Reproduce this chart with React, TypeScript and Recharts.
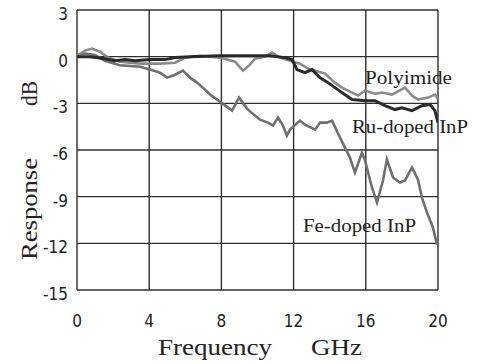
import { LineChart, Line, XAxis, YAxis, CartesianGrid } from 'recharts'

// frequency (GHz) / response (dB)
const polyimideFreq = [0, 0.44, 0.83, 1.27, 1.72, 2.38, 3.49, 4.6, 5.43, 6.0, 6.81, 7.92, 8.75, 9.2, 9.58, 9.86, 10.4, 10.8, 11.25, 11.8, 12.35, 12.9, 13.19, 13.74, 14.29, 14.68, 15.01, 15.57, 15.96, 16.51, 16.9, 17.45, 18.17, 18.56, 18.89, 19.45, 19.83, 20]
const polyimideDb = [0.06, 0.39, 0.51, 0.32, -0.06, -0.32, -0.45, -0.45, -0.39, -0.06, 0.06, -0.06, -0.32, -0.9, -0.51, -0.13, 0, 0.26, -0.06, -0.26, -0.45, -0.83, -0.9, -1.09, -1.67, -1.99, -2.18, -2.5, -2.18, -2.38, -2.31, -2.44, -1.99, -2.5, -2.76, -2.63, -2.44, -2.7]

const ruFreq = [0, 0.72, 1.55, 2.1, 2.66, 3.21, 4.04, 4.88, 5.43, 6.26, 7.92, 9.58, 10.69, 11.52, 11.91, 12.19, 12.63, 13.02, 13.46, 13.91, 14.68, 15.24, 15.96, 16.51, 17.06, 17.62, 18.0, 18.56, 19.11, 19.56, 19.83, 20]
const ruDb = [0, 0, -0.13, -0.26, -0.19, -0.26, -0.19, -0.19, -0.06, 0, 0.06, 0.06, 0.06, -0.06, -0.19, -0.83, -1.03, -0.83, -1.35, -1.67, -2.31, -2.76, -2.83, -2.83, -3.15, -3.4, -3.28, -3.47, -3.15, -3.08, -3.47, -4.24]

const feFreq = [0, 0.44, 1.0, 1.55, 2.38, 3.49, 4.04, 4.6, 4.99, 5.43, 5.87, 6.26, 6.65, 7.09, 7.37, 7.92, 8.59, 8.98, 9.42, 9.86, 10.14, 10.58, 10.86, 11.14, 11.41, 11.63, 11.8, 12.35, 12.63, 13.19, 13.46, 13.85, 14.13, 14.57, 15.12, 15.4, 15.79, 15.96, 16.34, 16.62, 16.95, 17.17, 17.51, 17.89, 18.17, 18.56, 18.89, 19.11, 19.39, 19.72, 19.94, 20]
const feDb = [0.1, 0.2, 0.1, -0.26, -0.55, -0.65, -0.83, -1.03, -1.35, -1.16, -0.9, -1.35, -1.67, -2.12, -2.44, -2.89, -3.47, -2.63, -3.34, -3.79, -4.05, -4.24, -4.43, -3.92, -4.43, -5.07, -4.69, -4.11, -4.37, -4.69, -4.24, -4.24, -4.11, -5.2, -6.49, -7.45, -6.17, -6.68, -8.41, -9.38, -7.96, -6.62, -7.77, -8.09, -7.96, -7.13, -7.9, -9.06, -10.02, -10.98, -12.07, -11.75]

const xTicks = [0, 4, 8, 12, 16, 20]
const yTicks = [3, 0, -3, -6, -9, -12, -15]

const toRows = (freq: number[], db: number[]) => freq.map((f, i) => ({ f, db: db[i] }))

const tickFont = "'Liberation Sans Narrow', 'DejaVu Sans Condensed', 'Liberation Sans', sans-serif"
const serif = "'Liberation Serif', 'Times New Roman', serif"

const XTick = ({ x, y, payload }: any) => (
  <text x={x} y={y + 37} textAnchor="middle" fontFamily={tickFont} fontSize={17} fill="#222">
    {payload.value}
  </text>
)

const YTick = ({ x, y, payload }: any) => (
  <text x={x - 9} y={y + 10} textAnchor="end" fontFamily={tickFont} fontSize={17} fill="#222">
    {payload.value}
  </text>
)

export default function App() {
  const polyimide = toRows(polyimideFreq, polyimideDb)
  const ru = toRows(ruFreq, ruDb)
  const fe = toRows(feFreq, feDb)

  return (
    <div style={{ position: 'absolute', left: 0, top: 0, width: 480, height: 364, background: '#fff' }}>
      <LineChart width={480} height={364} margin={{ top: 10, right: 42, bottom: 0, left: 0 }}>
        <CartesianGrid stroke="#2e2e2e" strokeWidth={1.4} />
        <XAxis
          type="number"
          dataKey="f"
          domain={[0, 20]}
          ticks={xTicks}
          height={74}
          tickLine={false}
          axisLine={false}
          tickSize={0}
          tickMargin={0}
          tick={<XTick />}
          allowDataOverflow
        />
        <YAxis
          type="number"
          domain={[-15, 3]}
          ticks={yTicks}
          width={77}
          tickLine={false}
          axisLine={false}
          tickSize={0}
          tickMargin={0}
          tick={<YTick />}
          allowDataOverflow
        />
        <Line data={fe} dataKey="db" type="linear" stroke="#6f6f6f" strokeWidth={2.6} dot={false} isAnimationActive={false} />
        <Line data={polyimide} dataKey="db" type="linear" stroke="#8a8a8a" strokeWidth={2.6} dot={false} isAnimationActive={false} />
        <Line data={ru} dataKey="db" type="linear" stroke="#2a2a2a" strokeWidth={3} dot={false} isAnimationActive={false} />
      </LineChart>

      {/* titles and curve labels */}
      <svg width={480} height={364} style={{ position: 'absolute', left: 0, top: 0, pointerEvents: 'none' }}>
        <g fontFamily={serif} fill="#222">
          <text x={365} y={84} fontSize={18} textLength={87} lengthAdjust="spacingAndGlyphs">Polyimide</text>
          <text x={352} y={133} fontSize={18} textLength={116} lengthAdjust="spacingAndGlyphs">Ru-doped InP</text>
          <text x={303} y={232} fontSize={18} textLength={113} lengthAdjust="spacingAndGlyphs">Fe-doped InP</text>
          <text x={158} y={355} fontSize={23} textLength={114} lengthAdjust="spacingAndGlyphs">Frequency</text>
          <text x={311} y={355} fontSize={23} textLength={51} lengthAdjust="spacingAndGlyphs">GHz</text>
          <text transform="translate(37,260) rotate(-90)" fontSize={23} textLength={102} lengthAdjust="spacingAndGlyphs">Response</text>
          <text transform="translate(37,106) rotate(-90)" fontSize={23} textLength={25} lengthAdjust="spacingAndGlyphs">dB</text>
        </g>
      </svg>
    </div>
  )
}
